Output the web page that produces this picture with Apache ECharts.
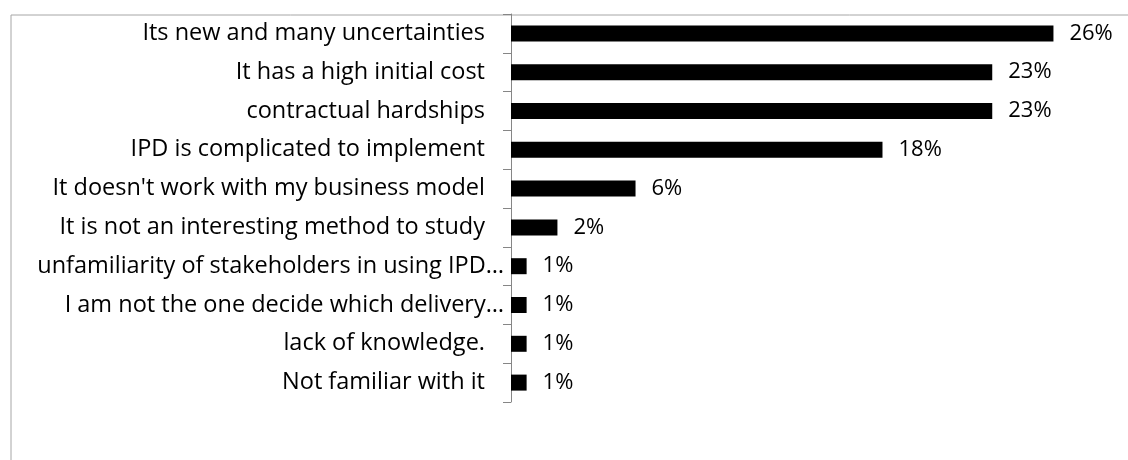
<!DOCTYPE html>
<html>
<head>
<meta charset="utf-8">
<script src="https://cdn.jsdelivr.net/npm/echarts@6/dist/echarts.min.js"></script>
<style>
  html, body { margin: 0; padding: 0; background: #ffffff; }
  #chart { width: 1128px; height: 460px; }
</style>
</head>
<body>
<div id="chart"></div>
<script>
// Reasons given for not adopting IPD, share of respondents (%)
const reasons = [
  'Its new and many uncertainties',
  'It has a high initial cost',
  'contractual hardships',
  'IPD is complicated to implement',
  "It doesn't work with my business model",
  'It is not an interesting method to study',
  'unfamiliarity of stakeholders in using IPD…',
  'I am not the one decide which delivery…',
  'lack of knowledge.',
  'Not familiar with it'
];
const shares = [25.7, 22.8, 22.8, 17.6, 5.9, 2.2, 0.74, 0.74, 0.74, 0.74];

const FONT = '"Open Sans", sans-serif';
const FS_CAT = 23.5;
const FS_VAL = 22;
const chart = echarts.init(document.getElementById('chart'), null, { renderer: 'canvas' });

chart.setOption({
  animation: false,
  backgroundColor: '#ffffff',
  graphic: [{
    type: 'rect',
    left: 8.5, top: 12.5,
    shape: { width: 1300, height: 600 },
    style: { fill: 'none', stroke: '#a6a6a6', lineWidth: 1 },
    silent: true
  }],
  grid: { left: 511, right: 26, top: 14, bottom: 58, containLabel: false },
  xAxis: {
    type: 'value',
    min: 0,
    max: 28,
    show: false
  },
  yAxis: {
    type: 'category',
    data: reasons,
    inverse: true,
    axisLine: { show: true, lineStyle: { color: '#868686', width: 1 } },
    axisTick: { show: true, length: 8, lineStyle: { color: '#868686' } },
    axisLabel: {
      margin: 7,
      color: '#000000',
      fontFamily: FONT,
      fontSize: FS_CAT,
      formatter: function (v) {
        return v.endsWith('…') ? '{t|' + v + '}' : '{n|' + v + '}';
      },
      rich: {
        t: { color: '#000000', fontFamily: FONT, fontSize: FS_CAT },
        n: { color: '#000000', fontFamily: FONT, fontSize: FS_CAT, padding: [0, 19, 0, 0] }
      }
    },
    splitLine: { show: false }
  },
  series: [{
    type: 'bar',
    data: shares,
    barWidth: 16,
    itemStyle: { color: '#000000' },
    label: {
      show: true,
      position: 'right',
      distance: 16,
      color: '#000000',
      fontFamily: FONT,
      fontSize: FS_VAL,
      formatter: function (p) { return Math.round(p.value) + '%'; }
    }
  }]
});
</script>
</body>
</html>
